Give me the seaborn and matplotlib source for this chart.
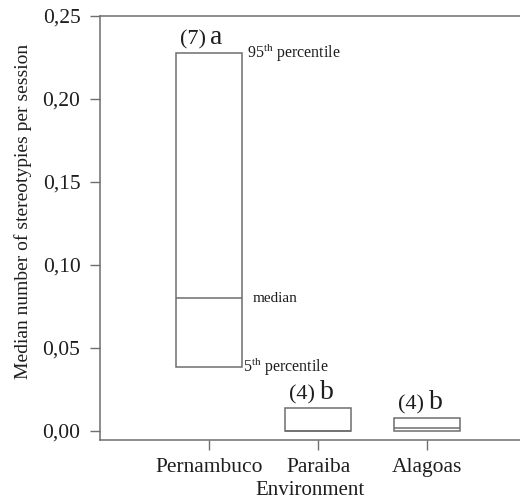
import matplotlib
matplotlib.use("Agg")
import matplotlib.pyplot as plt
import seaborn as sns
import pandas as pd
import numpy as np

environments = ["Pernambuco", "Paraiba", "Alagoas"]
p5 = [0.0385, 0.0, 0.0]
median = [0.080, 0.0, 0.0016]
p95 = [0.228, 0.014, 0.008]
n_labels = ["(7)", "(4)", "(4)"]
letters = ["a", "b", "b"]
yticks = [0.00, 0.05, 0.10, 0.15, 0.20, 0.25]
ytick_labels = ["0,00", "0,05", "0,10", "0,15", "0,20", "0,25"]

sns.set_theme(style="white")
plt.rcParams["font.family"] = ["Liberation Serif", "DejaVu Serif"]
plt.rcParams["mathtext.fontset"] = "custom"
plt.rcParams["mathtext.rm"] = "Liberation Serif"

df = pd.DataFrame({
    "Environment": environments,
    "height": np.array(p95) - np.array(p5),
    "bottom": p5,
    "median": median,
})

fig = plt.figure(figsize=(5.2, 5.01), dpi=100)
ax = fig.add_axes([0.192, 0.122, 0.808, 0.846])

edge = "#6e6e6e"
sns.barplot(data=df, x="Environment", y="height", bottom=df["bottom"].values,
            width=0.6, color="white", edgecolor=edge, linewidth=1.1,
            ax=ax, order=environments)

for i, m in enumerate(median):
    ax.hlines(m, i - 0.3, i + 0.3, color=edge, linewidth=1.1)

ax.set_xlim(-1.0, 2.85)
ax.set_ylim(-0.0054, 0.25)
ax.set_yticks(yticks)
ax.set_yticklabels(ytick_labels)

txt = "#1e1e1e"
ax.tick_params(axis="both", labelsize=15.5, colors=txt, direction="out",
               length=7, width=1, color=edge, bottom=True, left=True)
ax.tick_params(axis="y", pad=7)
ax.tick_params(axis="x", pad=6)
ax.set_xlabel("Environment", fontsize=15, color=txt, labelpad=3)
ax.set_ylabel("Median number of stereotypies per session", fontsize=14,
              color=txt)
ax.yaxis.set_label_coords(-0.162, 0.538)

for s in ["left", "bottom", "top"]:
    ax.spines[s].set_color(edge)
    ax.spines[s].set_linewidth(1.1)
ax.spines["right"].set_visible(False)

# group annotations
for i in range(len(environments)):
    ax.annotate(n_labels[i] + " ", xy=(i, p95[i]), xytext=(2, 2),
                textcoords="offset points", ha="right", va="bottom",
                fontsize=16, color=txt)
    ax.annotate(letters[i], xy=(i, p95[i]), xytext=(1, 2),
                textcoords="offset points", ha="left", va="bottom",
                fontsize=20, color=txt)

# percentile legend labels
ax.annotate("95$^{\\mathrm{th}}$ percentile", xy=(0.3, p95[0]), xytext=(4, 0),
            textcoords="offset points", ha="left", va="center", fontsize=11.5, color=txt)
ax.annotate("median", xy=(0.3, median[0]), xytext=(8, 0),
            textcoords="offset points", ha="left", va="center", fontsize=11, color=txt)
ax.annotate("5$^{\\mathrm{th}}$ percentile", xy=(0.3, p5[0]), xytext=(1, 0),
            textcoords="offset points", ha="left", va="center", fontsize=11.5, color=txt)

fig.savefig("out.png", dpi=100)
